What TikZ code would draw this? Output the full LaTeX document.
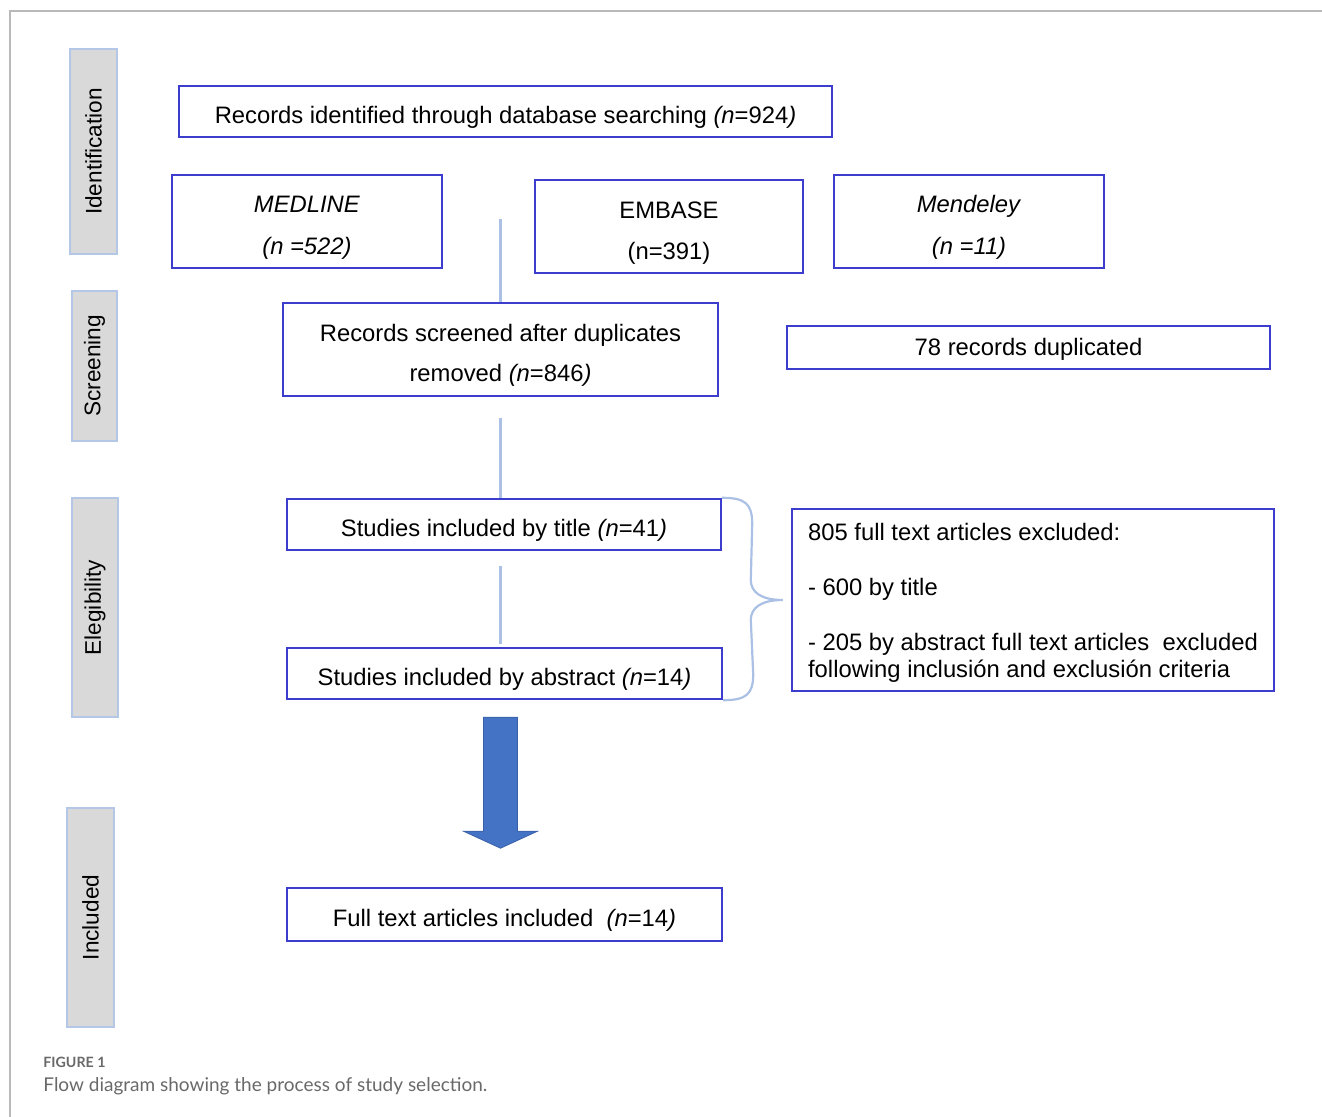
\documentclass[tikz,border=0pt]{standalone}
\usepackage{fontspec}
\setmainfont{Liberation Sans}
\newfontfamily\captionfont{Lato}
\usetikzlibrary{calc}
\definecolor{boxblue}{RGB}{60,60,205}
\definecolor{stagefill}{RGB}{217,217,217}
\definecolor{stageedge}{RGB}{180,199,231}
\definecolor{linkblue}{RGB}{170,192,228}
\definecolor{arrowblue}{RGB}{68,114,196}
\definecolor{framegray}{RGB}{185,185,185}
\definecolor{captiongray}{RGB}{105,105,105}
\newcommand{\boxtext}[3][3.5pt]{\raisebox{-#1}[\height][\depth]{\begin{tabular}{@{}#2@{}}#3\end{tabular}}}
\begin{document}
\begin{tikzpicture}[x=0.5pt, y=-0.5pt,
    stage/.style={draw=stageedge, line width=1.4pt, fill=stagefill, rotate=90, inner sep=0pt, font=\fontsize{11.3}{13}\selectfont},
    flowbox/.style={draw=boxblue, line width=1.2pt, inner sep=0pt, font=\fontsize{11.9}{13.5}\selectfont},
    link/.style={draw=linkblue, line width=1.1pt},
    captext/.style={anchor=base west, inner sep=0pt, text=captiongray}]
    \useasboundingbox (0,0) rectangle (1322,1117);
    \draw[framegray, line width=1pt] (1322,11) -- (10,11) -- (10,1117);

    \node[stage, minimum width=102.5pt, minimum height=23.5pt] (ident) at (93.5,151.5) {Identification};
    \node[stage, minimum width=75pt, minimum height=22.5pt] (screening) at (94.5,366) {Screening};
    \node[stage, minimum width=109.5pt, minimum height=23pt] (elig) at (95,607.5) {Elegibility};
    \node[stage, minimum width=109.5pt, minimum height=23.5pt] (incl) at (90.5,917.5) {Included};

    \node[flowbox, minimum width=326.5pt, minimum height=25.5pt] (records) at (505.5,111.5) {\boxtext{c}{Records identified through database searching \textit{(n}=924\textit{)}}};
    \node[flowbox, minimum width=135pt, minimum height=46.5pt] (medline) at (307,221.5) {\boxtext{c}{\textit{MEDLINE}\\[7.5pt]\textit{(n =522)}}};
    \node[flowbox, minimum width=134pt, minimum height=46.5pt] (embase) at (669,226.5) {\boxtext{c}{EMBASE\\[7pt](n=391)}};
    \node[flowbox, minimum width=135pt, minimum height=46.5pt] (mendeley) at (969,221.5) {\boxtext{c}{\textit{Mendeley}\\[7.5pt]\textit{(n =11)}}};
    \node[flowbox, minimum width=217.5pt, minimum height=46.5pt] (screened) at (500.5,349.5) {\boxtext{c}{Records screened after duplicates\\[6.5pt]removed \textit{(n}=846\textit{)}}};
    \node[flowbox, minimum width=241.5pt, minimum height=21.5pt] (duplicated) at (1028.5,347.5) {\boxtext[1.5pt]{c}{78 records duplicated}};
    \node[flowbox, minimum width=217pt, minimum height=25.5pt] (title) at (504,524.5) {\boxtext{c}{Studies included by title \textit{(n}=41\textit{)}}};
    \node[flowbox, minimum width=217.5pt, minimum height=25.5pt] (abstract) at (504.5,673.5) {\boxtext{c}{Studies included by abstract \textit{(n}=14\textit{)}}};
    \node[flowbox, inner xsep=8pt, minimum width=241pt, minimum height=91pt] (excluded) at (1033,600) {\boxtext[2pt]{l}{805 full text articles excluded:\\[14pt]- 600 by title\\[14pt]- 205 by abstract full text articles\ \ excluded\\following inclusión and exclusión criteria}};
    \node[flowbox, minimum width=217.5pt, minimum height=26.5pt] (fulltext) at (504.5,914.5) {\boxtext{c}{Full text articles included\ \ \textit{(n}=14\textit{)}}};

    \draw[link] ($(screened.north)+(0,-83)$) -- (screened.north);
    \draw[link] ($(screened.south)+(0,21)$) -- (screened.south |- title.north);
    \draw[link] ($(screened.south |- title.south)+(0,15)$) -- ($(screened.south |- abstract.north)+(0,-3)$);

    \coordinate (bracetop) at (title.north east);
    \coordinate (bracebot) at (abstract.south east);
    \coordinate (bracetip) at ($(excluded.west)+(-8,0)$);
    \draw[link] (bracetop) .. controls ($(bracetop)+(23,0)$) and ($(bracetop)+(30,6)$) .. ($(bracetop)+(30,26)$)
        -- ($(bracetip)+(-32,-20)$) .. controls ($(bracetip)+(-32,-8)$) and ($(bracetip)+(-22,0)$) .. (bracetip)
        .. controls ($(bracetip)+(-22,0)$) and ($(bracetip)+(-32,8)$) .. ($(bracetip)+(-32,20)$)
        -- ($(bracebot)+(30,-26)$) .. controls ($(bracebot)+(30,-6)$) and ($(bracebot)+(23,0)$) .. (bracebot);

    \coordinate (arrowtop) at ($(screened.south |- abstract.south)+(0,17)$);
    \filldraw[fill=arrowblue, draw=arrowblue!85!black, line width=0.4pt] ($(arrowtop)+(-17,0)$) -- ++(34,0) -- ++(0,114) -- ++(20,0) -- ++(-37,17) -- ++(-37,-17) -- ++(20,0) -- cycle;

    \node[captext, font=\captionfont\bfseries\fontsize{7.1}{9}\selectfont] (figlabel) at (43,1067) {FIGURE 1};
    \node[captext, font=\captionfont\fontsize{9.5}{11}\selectfont] (figcaption) at (43,1091) {Flow diagram showing the process of study selection.};
\end{tikzpicture}
\end{document}
